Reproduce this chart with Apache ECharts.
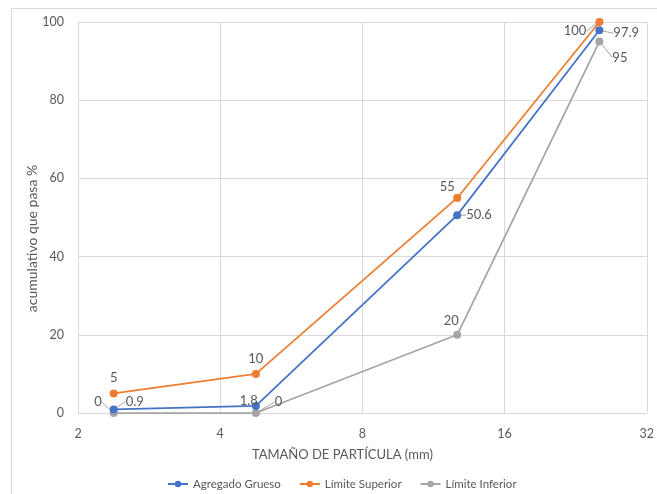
<!DOCTYPE html>
<html>
<head>
<meta charset="utf-8">
<script src="https://cdn.jsdelivr.net/npm/echarts@6/dist/echarts.min.js"></script>
<style>
  html, body { margin: 0; padding: 0; background: #fff; }
  #chart { width: 657px; height: 494px; }
</style>
</head>
<body>
<div id="chart"></div>
<script>
// Sieve openings (mm) and cumulative passing (%)
const sieveSizes = [2.38, 4.76, 12.7, 25.4];
const agregadoGrueso = [0.9, 1.8, 50.6, 97.9];
const limiteSuperior = [5, 10, 55, 100];
const limiteInferior = [0, 0, 20, 95];
const xTicks = [2, 4, 8, 16, 32];
const yTicks = [0, 20, 40, 60, 80, 100];

const LABEL_COLOR = '#595959';
const FONT = 'Lato, "Noto Sans", sans-serif';

function pairs(values) {
  return sieveSizes.map((x, i) => [x, values[i]]);
}

// per-point label side
const labelSide = {
  grueso:   ['right', 'left', 'right', 'right'],
  superior: ['top', 'top', 'top', 'left'],
  inferior: ['left', 'right', 'top', 'right']
};
// per-point nudge [dx, dy, leader line?]
const labelShift = {
  grueso:   { 0: [3, -8, true], 1: [11, -5, false], 2: [0, 0, true], 3: [5, 3, true] },
  superior: { 2: [-10, 4, false], 3: [-4, 9, true] },
  inferior: { 0: [-3, -11, true], 1: [10, -11, true], 2: [-6, 2, false], 3: [4, 16, true] }
};

function buildSeries(name, key, values, color) {
  return {
    name: name,
    type: 'line',
    data: pairs(values).map((p, i) => {
      const s = labelShift[key][i];
      return {
        value: p,
        label: { position: labelSide[key][i] },
        labelLine: { show: !!(s && s[2]) }
      };
    }),
    symbol: 'circle',
    symbolSize: 8,
    showSymbol: true,
    lineStyle: { color: color, width: 1.75 },
    itemStyle: { color: color },
    label: {
      show: true,
      color: LABEL_COLOR,
      fontFamily: FONT,
      fontSize: 13,
      formatter: p => String(p.value[1])
    },
    labelLine: {
      show: true,
      lineStyle: { color: '#A6A6A6', width: 1 }
    },
    labelLayout: function (params) {
      const s = labelShift[key][params.dataIndex];
      if (s) return { dx: s[0], dy: s[1] };
      return {};
    },
    z: key === 'inferior' ? 2 : (key === 'superior' ? 3 : 4)
  };
}

const chart = echarts.init(document.getElementById('chart'), null, { renderer: 'canvas' });

chart.setOption({
  animation: false,
  backgroundColor: '#ffffff',
  textStyle: { fontFamily: FONT },
  graphic: [{
    type: 'rect',
    silent: true,
    shape: { x: 11.5, y: 8.5, width: 660, height: 500 },
    style: { fill: 'none', stroke: '#D9D9D9', lineWidth: 1 }
  }],
  grid: { left: 78, right: 10, top: 22, bottom: 81, containLabel: false },
  legend: {
    left: 162,
    top: 473,
    itemGap: 18,
    itemWidth: 20,
    itemHeight: 8,
    textStyle: { color: LABEL_COLOR, fontFamily: FONT, fontSize: 11.5 },
    data: ['Agregado Grueso', 'Límite Superior', 'Límite Inferior']
  },
  xAxis: {
    type: 'log',
    logBase: 2,
    min: xTicks[0],
    max: xTicks[xTicks.length - 1],
    name: 'TAMAÑO DE PARTÍCULA (mm)',
    nameLocation: 'middle',
    nameGap: 35,
    nameTextStyle: { color: LABEL_COLOR, fontFamily: FONT, fontSize: 13, padding: [0, 40, 0, 0] },
    axisLine: { show: false },
    axisTick: { show: false },
    axisLabel: { color: LABEL_COLOR, fontFamily: FONT, fontSize: 12.5, margin: 14,
                 formatter: v => String(Math.round(v)) },
    splitLine: { show: true, lineStyle: { color: '#D9D9D9', width: 1 } }
  },
  yAxis: {
    type: 'value',
    min: yTicks[0],
    max: yTicks[yTicks.length - 1],
    interval: 20,
    name: 'acumulativo que pasa %',
    nameLocation: 'middle',
    nameGap: 39,
    nameMoveOverlap: false,
    nameTextStyle: { color: LABEL_COLOR, fontFamily: FONT, fontSize: 14, padding: [0, 42, 0, 0] },
    axisLine: { show: false },
    axisTick: { show: false },
    axisLabel: { color: LABEL_COLOR, fontFamily: FONT, fontSize: 12.5, margin: 14 },
    splitLine: { show: true, lineStyle: { color: '#D9D9D9', width: 1 } }
  },
  series: [
    buildSeries('Agregado Grueso', 'grueso', agregadoGrueso, '#4472C4'),
    buildSeries('Límite Superior', 'superior', limiteSuperior, '#ED7D31'),
    buildSeries('Límite Inferior', 'inferior', limiteInferior, '#A5A5A5')
  ]
});
</script>
</body>
</html>
